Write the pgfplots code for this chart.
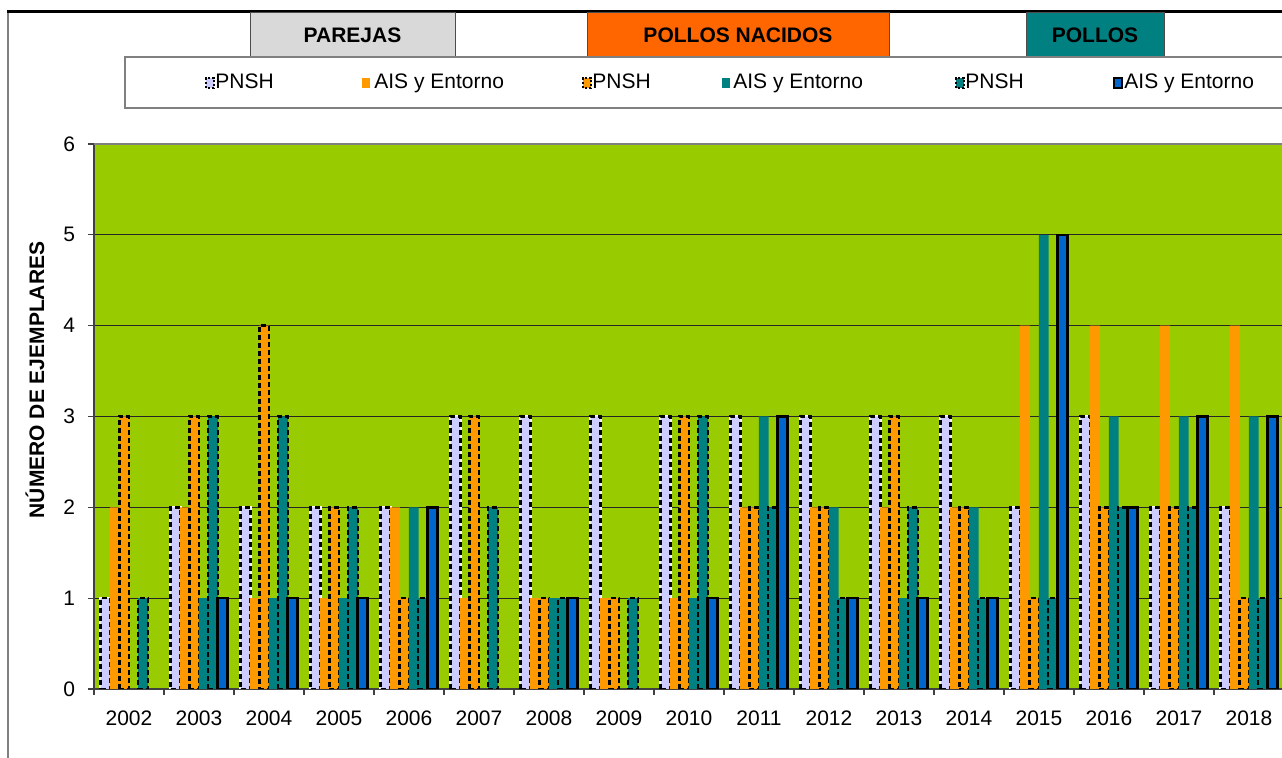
\documentclass[border=0pt]{standalone}
\usepackage{fontspec}
\setmainfont{Liberation Sans}
\usepackage{pgfplots}
\usepackage{pgfplotstable}
\pgfplotsset{compat=1.18}
\definecolor{lav}{HTML}{CCCCFF}
\definecolor{orng}{HTML}{FF9900}
\definecolor{tealc}{HTML}{008080}
\definecolor{bluec}{HTML}{0066CC}
\definecolor{bgc}{HTML}{99CC00}
\definecolor{hgray}{HTML}{D9D9D9}
\definecolor{horange}{HTML}{FF6600}
\pgfplotstableread{
x a b c d e f
0  1 2 3 0 1 0
1  2 2 3 1 3 1
2  2 1 4 1 3 1
3  2 1 2 1 2 1
4  2 2 1 2 1 2
5  3 1 3 0 2 0
6  3 1 1 1 1 1
7  3 1 1 0 1 0
8  3 1 3 1 3 1
9  3 2 2 3 2 3
10 3 2 2 2 1 1
11 3 2 3 1 2 1
12 3 2 2 2 1 1
13 2 4 1 5 1 5
14 3 4 2 3 2 2
15 2 4 2 3 2 3
16 2 4 1 3 1 3
}\datatable
\begin{document}
\begin{tikzpicture}[font=\fontsize{10.5}{12.6}\selectfont]
\useasboundingbox (0,0) rectangle (641pt,379pt);
% outer frame
\draw[gray, line width=0.6pt] (4pt,372.5pt) -- (4pt,0);
\draw[black, line width=1.5pt] (3.5pt,373pt) -- (645pt,373pt);
% header boxes
\draw[black!70, fill=hgray, line width=0.5pt] (125pt,372.5pt) rectangle (227.5pt,350.5pt);
\node[font=\fontsize{10.5}{12.6}\selectfont\bfseries] at (176.25pt,361.5pt) {PAREJAS};
\draw[black!70, fill=horange, line width=0.5pt] (293.5pt,372.5pt) rectangle (444.5pt,350.5pt);
\node[font=\fontsize{10.5}{12.6}\selectfont\bfseries] at (369pt,361.5pt) {POLLOS NACIDOS};
\draw[black!70, fill=tealc, line width=0.5pt] (513pt,372.5pt) rectangle (582pt,350.5pt);
\node[font=\fontsize{10.5}{12.6}\selectfont\bfseries] at (547.5pt,361.5pt) {POLLOS};
% legend box
\draw[gray, line width=0.6pt] (645pt,350.5pt) -- (62.5pt,350.5pt) -- (62.5pt,325pt) -- (645pt,325pt);
% legend entries
\filldraw[fill=lav, draw=black, line width=0.7pt, dash pattern=on 1.2pt off 0.8pt] (103pt,335pt) rectangle (107pt,340pt);
\node[anchor=base west, inner sep=0pt] at (107.5pt,334.5pt) {PNSH};
\fill[orng] (181pt,335pt) rectangle (185pt,340pt);
\node[anchor=base west, inner sep=0pt] at (187pt,334.5pt) {AIS y Entorno};
\filldraw[fill=orng, draw=black, line width=0.7pt, dash pattern=on 1.2pt off 0.8pt] (291.5pt,335pt) rectangle (295.5pt,340pt);
\node[anchor=base west, inner sep=0pt] at (296pt,334.5pt) {PNSH};
\fill[tealc] (361pt,335pt) rectangle (365pt,340pt);
\node[anchor=base west, inner sep=0pt] at (366.5pt,334.5pt) {AIS y Entorno};
\filldraw[fill=tealc, draw=black, line width=0.7pt, dash pattern=on 1.2pt off 0.8pt] (478pt,335pt) rectangle (482pt,340pt);
\node[anchor=base west, inner sep=0pt] at (482.5pt,334.5pt) {PNSH};
\filldraw[fill=bluec, draw=black, line width=0.7pt] (557pt,335pt) rectangle (561pt,340pt);
\node[anchor=base west, inner sep=0pt] at (562pt,334.5pt) {AIS y Entorno};
\begin{axis}[
  at={(47pt,34.5pt)}, anchor=south west,
  scale only axis, width=595pt, height=272.5pt,
  xmin=-0.5, xmax=16.5, ymin=0, ymax=6,
  axis background/.style={fill=bgc},
  axis lines*=left,
  axis line style={black!75, line width=0.6pt},
  ytick={0,1,2,3,4,5,6},
  xtick={0,...,16},
  xticklabels={2002,2003,2004,2005,2006,2007,2008,2009,2010,2011,2012,2013,2014,2015,2016,2017,2018},
  minor xtick={-0.5,0.5,...,16.5},
  tick align=outside,
  major tick length=3pt, minor tick length=3pt,
  x tick style={draw=none},
  minor x tick style={draw=black!75, line width=0.6pt},
  y tick style={black!75, line width=0.6pt},
  ymajorgrids,
  grid style={black!85, line width=0.5pt},
  /pgf/number format/assume math mode=true,
  tick label style={font=\fontsize{10.5}{12.6}\selectfont},
  yticklabel style={xshift=-3pt},
  xticklabel style={yshift=-4.5pt},
  ylabel={NÚMERO DE EJEMPLARES},
  ylabel style={font=\fontsize{10.5}{12.6}\selectfont\bfseries, at={(axis description cs:-0.0496,0.567)}, anchor=center},
  restrict y to domain=0.5:10,
]
\addplot[ybar, bar width=0.14, bar shift=-0.336, fill=lav, draw=black, line width=1.25pt, dash pattern=on 2.5pt off 1.5pt, preaction={draw=white, solid, line width=1.25pt}] table[x=x,y=a]{\datatable};
\addplot[ybar, bar width=0.14, bar shift=-0.2016, fill=orng, draw=none] table[x=x,y=b]{\datatable};
\addplot[ybar, bar width=0.14, bar shift=-0.0672, fill=orng, draw=black, line width=1.25pt, dash pattern=on 2.5pt off 1.5pt] table[x=x,y=c]{\datatable};
\addplot[ybar, bar width=0.14, bar shift=0.0672, fill=tealc, draw=none] table[x=x,y=d]{\datatable};
\addplot[ybar, bar width=0.14, bar shift=0.2016, fill=tealc, draw=black, line width=1.25pt, dash pattern=on 2.5pt off 1.5pt] table[x=x,y=e]{\datatable};
\addplot[ybar, bar width=0.14, bar shift=0.336, fill=bluec, draw=black, line width=1.25pt] table[x=x,y=f]{\datatable};
\draw[gray, line width=0.6pt] (axis cs:-0.5,6) -- (axis cs:16.5,6);
\end{axis}
\end{tikzpicture}
\end{document}
